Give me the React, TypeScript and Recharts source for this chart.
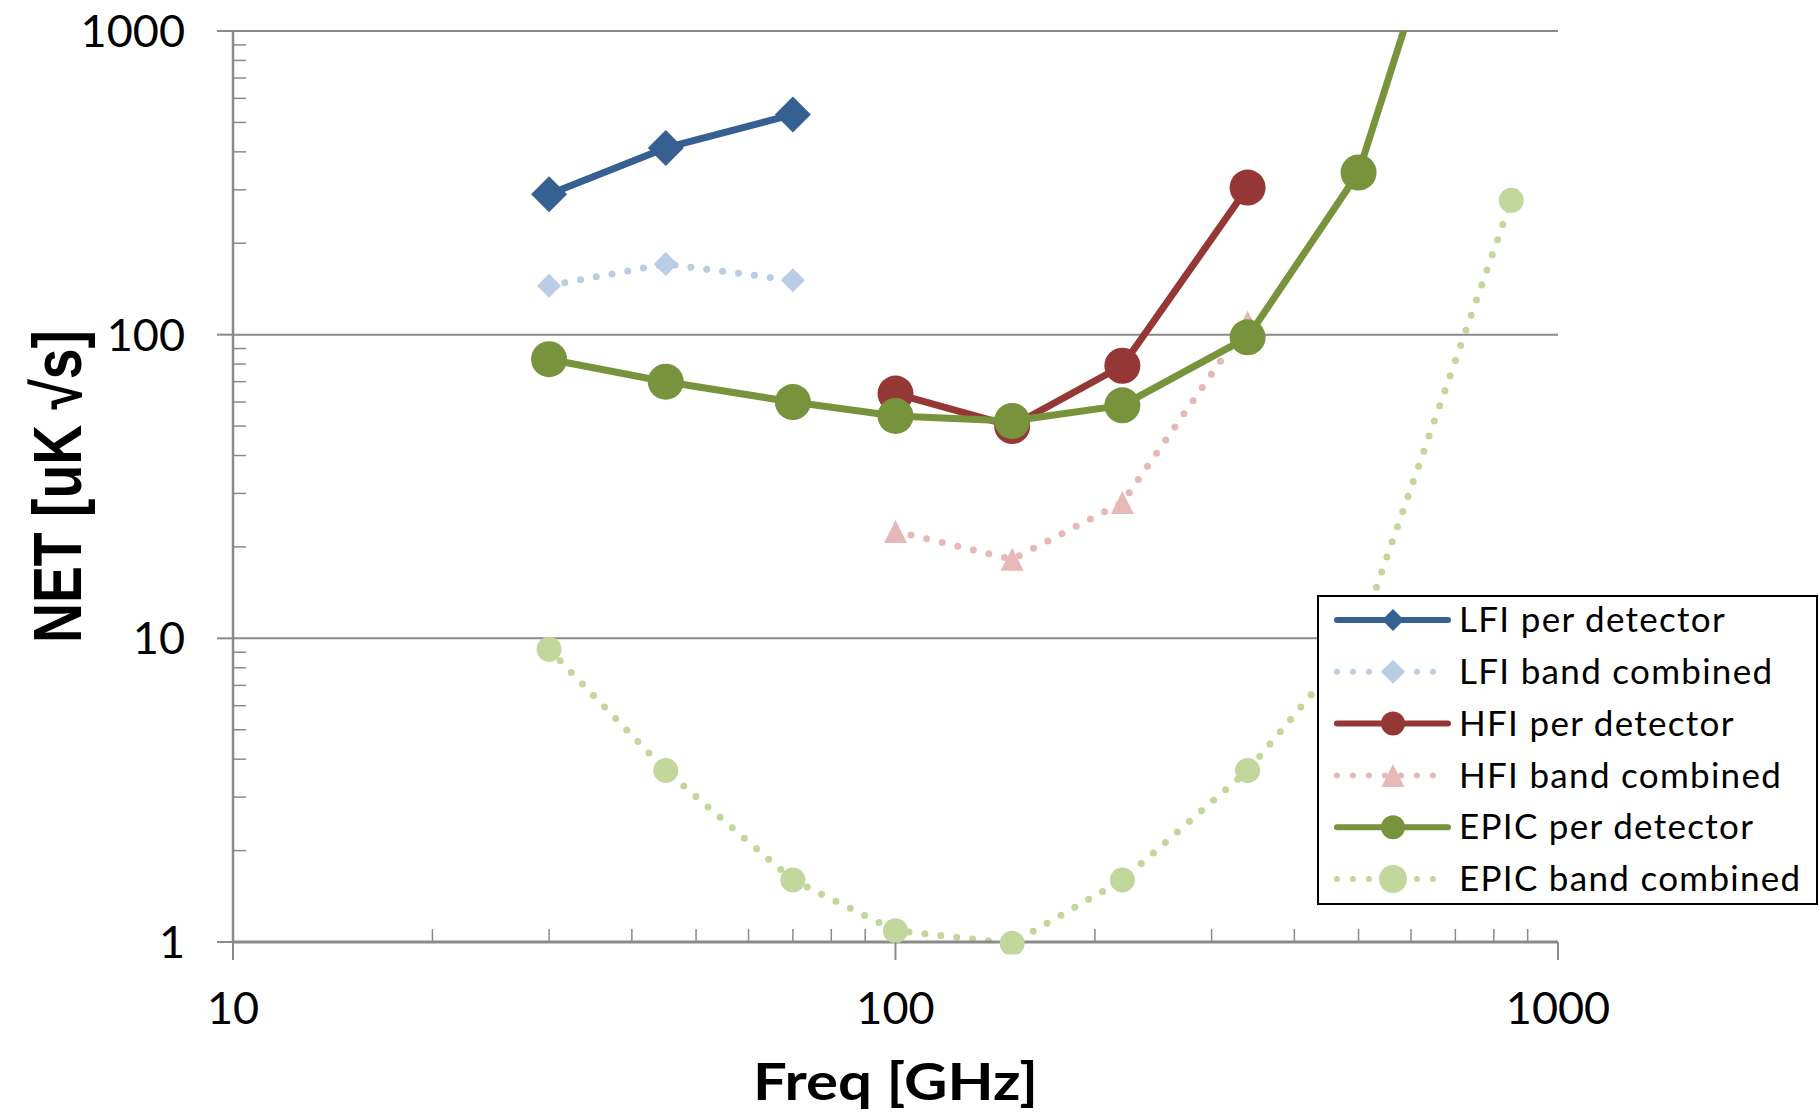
import React from "react";
import { LineChart, Line, XAxis, YAxis, CartesianGrid, Legend, Label } from "recharts";

// frequencies in GHz
const freqLfi = [30, 45, 70];
const freqHfi = [100, 150, 220, 340];
const freqEpic = [30, 45, 70, 100, 150, 220, 340, 500, 850];

// NET values [uK sqrt(s)]
const lfiPerDetector = [290, 412, 531];
const lfiBandCombined = [145, 171, 151];
const hfiPerDetector = [64, 50, 79, 305];
const hfiBandCombined = [22.5, 18.2, 28, 110];
const epicPerDetector = [83, 70, 60, 54, 52, 58.5, 98, 342, 13000];
const epicBandCombined = [9.2, 3.67, 1.6, 1.09, 0.99, 1.6, 3.67, 10, 277];

const xTicks = [10, 100, 1000];
const xMinorTicks = [20, 30, 40, 50, 60, 70, 80, 90, 200, 300, 400, 500, 600, 700, 800, 900];
const yTicks = [1, 10, 100, 1000];
const yMinorTicks = [2, 3, 4, 5, 6, 7, 8, 9, 20, 30, 40, 50, 60, 70, 80, 90, 200, 300, 400, 500, 600, 700, 800, 900];

const AXIS_GRAY = "#8a8a8a";
const TICK_FONT = "Lato, 'Liberation Sans', sans-serif";
const X_TICK_SIZE = 18;
const X_TICK_MARGIN = 32;

type Shape = "diamond" | "circle" | "triangle";

interface SeriesDef {
  name: string;
  freqs: number[];
  values: number[];
  color: string;
  dotted: boolean;
  shape: Shape;
  size: number;
  legendSize: number;
}

const series: SeriesDef[] = [
  { name: "LFI per detector", freqs: freqLfi, values: lfiPerDetector, color: "#376092", dotted: false, shape: "diamond", size: 18, legendSize: 11 },
  { name: "LFI band combined", freqs: freqLfi, values: lfiBandCombined, color: "#B9CDE5", dotted: true, shape: "diamond", size: 12, legendSize: 12 },
  { name: "HFI per detector", freqs: freqHfi, values: hfiPerDetector, color: "#953735", dotted: false, shape: "circle", size: 18, legendSize: 12 },
  { name: "HFI band combined", freqs: freqHfi, values: hfiBandCombined, color: "#E6B9B8", dotted: true, shape: "triangle", size: 11.5, legendSize: 11.5 },
  { name: "EPIC per detector", freqs: freqEpic, values: epicPerDetector, color: "#77933C", dotted: false, shape: "circle", size: 18, legendSize: 12 },
  { name: "EPIC band combined", freqs: freqEpic, values: epicBandCombined, color: "#C3D69B", dotted: true, shape: "circle", size: 12.5, legendSize: 14 },
];

const toPoints = (freqs: number[], values: number[]) => freqs.map((f, i) => ({ f, v: values[i] }));

function Marker({ cx, cy, shape, size, color }: { cx: number; cy: number; shape: Shape; size: number; color: string }) {
  if (shape === "diamond") {
    return <path d={`M${cx},${cy - size}L${cx + size},${cy}L${cx},${cy + size}L${cx - size},${cy}Z`} fill={color} />;
  }
  if (shape === "triangle") {
    return <path d={`M${cx},${cy - size}L${cx + size},${cy + size}L${cx - size},${cy + size}Z`} fill={color} />;
  }
  return <circle cx={cx} cy={cy} r={size} fill={color} />;
}

// y minor axis: keep the tick line, draw no label
const NoLabel = () => <g />;

// x axis: majors get a downward tick and a label, minors an inward tick
function XTick(props: any) {
  const { x, y, payload } = props;
  const axisY = y - X_TICK_SIZE - X_TICK_MARGIN;
  if (!xTicks.includes(payload.value)) {
    return <line x1={x} x2={x} y1={axisY} y2={axisY - 13} stroke={AXIS_GRAY} strokeWidth={1.5} />;
  }
  return (
    <g>
      <line x1={x} x2={x} y1={axisY} y2={axisY + X_TICK_SIZE} stroke={AXIS_GRAY} strokeWidth={2} />
      <text x={x} y={y} dy="0.71em" textAnchor="middle" fill="#000" fontSize={45} fontFamily={TICK_FONT}>
        {payload.value}
      </text>
    </g>
  );
}

function LegendBox() {
  return (
    <svg width={501} height={310} style={{ display: "block" }}>
      <rect x={1} y={1} width={499} height={308} fill="#fff" stroke="#000" strokeWidth={2} />
      {series.map((s, i) => {
        const y = 25 + i * 51.8;
        return (
          <g key={s.name}>
            <line
              x1={20}
              x2={131}
              y1={y}
              y2={y}
              stroke={s.color}
              strokeWidth={6}
              strokeDasharray={s.dotted ? "0 16" : undefined}
              strokeLinecap="round"
            />
            <Marker cx={76} cy={y} shape={s.shape} size={s.legendSize} color={s.color} />
            <text x={142} y={y} dy="0.35em" fontFamily={TICK_FONT} fontSize={35} letterSpacing={1.3} fill="#000">
              {s.name}
            </text>
          </g>
        );
      })}
    </svg>
  );
}

function XTitle(props: any) {
  const vb = props.viewBox || { x: 233, y: 942, width: 1325, height: 171 };
  return (
    <text
      x={vb.x + vb.width / 2}
      y={vb.y + 158}
      textAnchor="middle"
      fontFamily={TICK_FONT}
      fontWeight="bold"
      fontSize={52}
      textLength={285}
      lengthAdjust="spacingAndGlyphs"
      fill="#000"
    >
      Freq [GHz]
    </text>
  );
}

function YTitle(props: any) {
  const vb = props.viewBox || { x: 0, y: 31, width: 233, height: 911 };
  const cx = vb.x + 81;
  const cy = vb.y + vb.height / 2;
  return (
    <text
      transform={`translate(${cx}, ${cy}) rotate(-90)`}
      x={0}
      y={0}
      textAnchor="middle"
      fontFamily="'Liberation Sans Narrow', 'Arial Narrow', 'Liberation Sans', sans-serif"
      fontWeight="bold"
      fontSize={68}
      textLength={313}
      lengthAdjust="spacingAndGlyphs"
      fill="#000"
    >
      NET [uK √s]
    </text>
  );
}

export default function App() {
  return (
    <div style={{ position: "absolute", left: 0, top: 0, background: "#fff" }}>
      <LineChart width={1820} height={1113} margin={{ top: 31, right: 262, bottom: 0, left: 0 }}>
        <CartesianGrid vertical={false} stroke={AXIS_GRAY} strokeWidth={2} />
        <YAxis
          yAxisId="minor"
          type="number"
          scale="log"
          domain={[1, 1000]}
          allowDataOverflow
          ticks={yMinorTicks}
          interval={0}
          mirror
          tick={NoLabel}
          axisLine={false}
          tickSize={13}
          tickLine={{ stroke: AXIS_GRAY, strokeWidth: 1.5 }}
        />
        <XAxis
          type="number"
          dataKey="f"
          scale="log"
          domain={[10, 1000]}
          allowDataOverflow
          ticks={[...xTicks, ...xMinorTicks]}
          interval={0}
          height={171}
          tickSize={X_TICK_SIZE}
          tickMargin={X_TICK_MARGIN}
          axisLine={{ stroke: AXIS_GRAY, strokeWidth: 3 }}
          tickLine={false}
          tick={XTick}
        >
          <Label content={XTitle} />
        </XAxis>
        <YAxis
          type="number"
          scale="log"
          domain={[1, 1000]}
          allowDataOverflow
          ticks={yTicks}
          interval={0}
          width={233}
          tickSize={16}
          tickMargin={32}
          axisLine={{ stroke: AXIS_GRAY, strokeWidth: 2.5 }}
          tickLine={{ stroke: AXIS_GRAY, strokeWidth: 2 }}
          tick={{ fill: "#000", fontSize: 45, fontFamily: TICK_FONT }}
        >
          <Label content={YTitle} />
        </YAxis>
        {series.map((s) => (
          <Line
            key={s.name}
            name={s.name}
            data={toPoints(s.freqs, s.values)}
            dataKey="v"
            type="linear"
            stroke={s.color}
            strokeWidth={7}
            strokeDasharray={s.dotted ? "0 16" : undefined}
            strokeLinecap="round"
            strokeLinejoin="round"
            isAnimationActive={false}
            dot={
              s.shape === "circle"
                ? { r: s.size, fill: s.color, stroke: "none", strokeWidth: 0, clipDot: false }
                : (p: any) => (
                    <Marker key={`${s.name}-${p.index}`} cx={p.cx} cy={p.cy} shape={s.shape} size={s.size} color={s.color} />
                  )
            }
            activeDot={false}
          />
        ))}
        <Legend
          layout="horizontal"
          verticalAlign="middle"
          align="center"
          width={501}
          height={310}
          wrapperStyle={{ left: 1317, top: 595, width: 501, height: 310 }}
          content={() => <LegendBox />}
        />
      </LineChart>
    </div>
  );
}
